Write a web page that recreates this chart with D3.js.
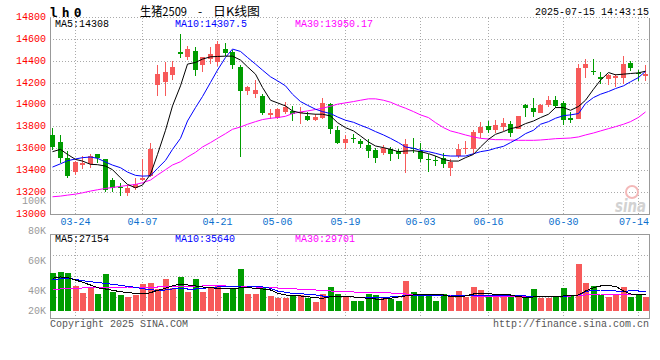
<!DOCTYPE html>
<html>
<head>
<meta charset="utf-8">
<script src="https://cdn.jsdelivr.net/npm/d3@7/dist/d3.min.js"></script>
<style>
body { margin: 0; background: #fff; }
text { font-family: "Liberation Mono", "DejaVu Sans Mono", monospace; font-size: 10px; }
</style>
</head>
<body>
<script>
// trading days shown on the chart
var dates = ["03-19","03-20","03-21","03-24","03-25","03-26","03-27","03-28","03-31",
  "04-01","04-02","04-03","04-07","04-08","04-09","04-10","04-11","04-14","04-15","04-16","04-17","04-18",
  "04-21","04-22","04-23","04-24","04-25","04-28","04-29","04-30",
  "05-06","05-07","05-08","05-09","05-12","05-13","05-14","05-15","05-16","05-19","05-20","05-21","05-22","05-23",
  "05-26","05-27","05-28","05-29","05-30",
  "06-03","06-04","06-05","06-06","06-09","06-10","06-11","06-12","06-13","06-16","06-17","06-18","06-19","06-20",
  "06-23","06-24","06-25","06-26","06-27","06-30",
  "07-01","07-02","07-03","07-04","07-07","07-08","07-09","07-10","07-11","07-14","07-15"];

var opens = [13724,13657,13516,13384,13445,13461,13546,13500,13311,13250,13194,13234,13314,13347,14183,14208,14272,14480,14440,14489,
  14367,14419,14388,14514,14483,14348,14128,14103,14082,13908,13883,13935,13944,13926,13898,13865,13883,14012,13773,13650,
  13696,13666,13629,13583,13559,13595,13577,13553,13602,13577,13504,13494,13510,13424,13531,13595,13592,13742,13803,13770,
  13797,13828,13776,14000,13975,13923,14000,14048,14021,13877,13874,14336,14309,14257,14235,14244,14250,14385,14296,14263];
var highs = [13785,13724,13577,13485,13531,13546,13550,13505,13332,13286,13265,13332,13500,13650,14367,14394,14397,14648,14535,14526,
  14440,14526,14587,14569,14501,14367,14174,14229,14097,13960,13975,14030,13990,13981,13938,13914,14067,14015,13803,13724,
  13730,13687,13684,13608,13632,13614,13599,13684,13693,13654,13553,13531,13562,13500,13638,13669,13767,13843,13852,13858,
  13877,13852,13898,14012,14061,14012,14082,14082,14036,13938,14373,14419,14419,14305,14287,14281,14446,14404,14318,14364];
var lows = [13583,13470,13326,13354,13409,13424,13464,13204,13204,13164,13164,13216,13301,13341,14082,14082,14232,14425,14410,14266,
  14305,14373,14357,14449,14327,13522,14088,14067,13905,13868,13868,13914,13852,13822,13852,13852,13868,13730,13644,13592,
  13654,13608,13516,13470,13537,13485,13504,13378,13562,13479,13384,13439,13418,13347,13516,13546,13546,13699,13745,13745,
  13761,13706,13776,13889,13892,13923,13981,13975,13816,13834,13868,14250,14272,14189,14183,14165,14195,14312,14220,14220];
var closes = [13614,13516,13344,13476,13464,13534,13510,13219,13240,13244,13237,13277,13329,13592,14287,14299,14348,14468,14514,14321,
  14434,14465,14557,14477,14364,14128,14159,14137,13923,13923,13960,13984,13914,13938,13865,13892,14021,13776,13650,13684,
  13690,13638,13577,13510,13602,13553,13553,13638,13595,13507,13494,13485,13461,13476,13592,13602,13748,13797,13770,13813,
  13837,13745,13898,13975,13935,14000,14042,13993,13859,13865,14336,14373,14299,14241,14272,14266,14373,14336,14281,14287];

var ma5 = [13571,13592,13546,13500,13485,13455,13452,13439,13406,13332,13271,13240,13265,13363,13546,13767,13990,14174,14373,14388,
  14419,14440,14443,14446,14446,14410,14348,14281,14159,14042,14018,13990,13944,13926,13920,13914,13914,13898,13837,13791,
  13761,13715,13660,13623,13608,13592,13571,13577,13580,13571,13553,13531,13500,13485,13485,13516,13546,13614,13684,13730,
  13755,13782,13797,13828,13852,13883,13914,13975,13975,13950,13985,14042,14143,14226,14296,14275,14281,14287,14293,14308];
var ma10 = [13430,13460,13488,13504,13516,13522,13510,13476,13448,13424,13384,13354,13347,13350,13418,13491,13592,13693,13852,13975,
  14076,14205,14318,14434,14511,14489,14434,14373,14318,14257,14220,14174,14097,14030,13996,13960,13938,13920,13889,13859,
  13840,13813,13785,13755,13724,13693,13654,13614,13602,13583,13571,13556,13537,13531,13531,13531,13552,13571,13583,13602,
  13620,13654,13693,13736,13767,13822,13846,13877,13901,13908,13920,14012,14067,14097,14122,14149,14174,14211,14250,14307];
var ma30 = [13158,13164,13173,13182,13194,13210,13222,13234,13243,13253,13262,13271,13286,13311,13357,13406,13449,13479,13522,13565,
  13614,13654,13693,13736,13776,13797,13822,13846,13865,13877,13883,13895,13920,13935,13944,13957,13969,13987,14006,14018,
  14030,14042,14055,14055,14042,14024,13993,13969,13938,13908,13883,13837,13791,13761,13742,13724,13706,13693,13687,13681,
  13681,13678,13675,13675,13675,13678,13684,13690,13693,13696,13706,13724,13742,13761,13782,13800,13822,13846,13885,13935];

var volumes = [58000,59000,58000,45000,38000,43000,36400,57000,39000,36000,33400,36000,47000,48000,41700,52000,43000,54000,39000,52000,
  39000,42300,44700,38000,43000,62000,37000,37000,42300,35000,33000,33000,35000,35700,32400,29000,37000,44000,36700,34000,
  29700,29700,36700,35700,34000,32000,30000,49700,39000,35700,35700,29700,36700,34000,39700,34000,44000,40700,34700,34700,
  34700,34700,34700,34000,41700,33000,33000,34700,43000,35700,66700,48000,44700,35700,34000,36300,43700,34000,35700,34000];
var volMa5 = [52400,53700,53000,50700,48400,45700,43000,41700,40400,39000,38000,37400,36700,38000,40400,42400,45000,46400,45700,44700,
  43700,43000,42400,42400,41700,43000,43000,42400,41700,40700,37400,35700,35000,34700,34000,33000,32400,34000,34000,34000,
  33700,33000,32400,31700,31700,32400,33700,34700,35700,36400,36400,36400,35700,34000,34400,34700,36700,37400,37000,36400,
  36400,35700,34000,33400,33700,34000,34000,34400,34700,35000,35700,39700,43000,44700,45000,44400,39700,36700,36000,35700];
var volMa10 = [50700,52000,52400,51400,50000,49000,48000,47400,46400,45400,44400,43400,42000,41000,40400,40700,41700,42400,41700,41700,
  42400,43000,43700,44000,44000,43700,43700,44000,43700,42400,39700,38400,37400,37000,36400,35700,34700,34700,34000,34000,
  33700,33400,33400,33400,33400,33700,34400,35000,35000,35000,35000,35000,35400,35700,35700,35400,35000,35000,35000,35000,
  35000,35000,35000,34700,34400,34000,34000,34400,34400,35000,35700,39000,40400,40700,40700,39700,39000,40000,39700,39700];
var volMa30 = [41400,41700,42000,42400,42700,43000,43000,43400,43400,43400,43700,43700,43700,43700,43700,44000,44000,44400,44400,44700,
  44700,45000,45000,44700,44700,44400,44000,43700,43400,43000,42700,42400,42000,41400,41000,40700,40400,39700,39400,39000,
  38700,38400,38400,38000,38000,37700,37000,36700,36400,36400,36000,35700,35400,35000,35000,35000,34700,34700,34700,34700,
  34700,34700,34700,34700,34700,34700,34700,34700,34700,34700,35000,35700,36400,36700,36700,36700,36700,36400,36000,35700];

var tickDates = ["03-24","04-07","04-21","05-06","05-19","06-03","06-16","06-30","07-14"];
var priceTicks = [13000,13200,13400,13600,13800,14000,14200,14400,14600,14800];
var volTicks = [20000,40000,60000,80000,100000];
var volTickLabels = ["20K","40K","60K","80K","100K"];

var red = "#f75a5a", green = "#009c00", gridColor = "#aaa", borderColor = "#999";
var left = 50, right = 649, volTop = 234, volBot = 318;

var svg = d3.select("body").append("svg")
    .attr("width", 660)
    .attr("height", 360);

var x = d3.scaleBand().domain(dates).range([49, 649.5]);
var y = d3.scaleLinear().domain([13000, 14800]).range([214, 17.5]);
var vy = d3.scaleLinear().domain([20000, 100000]).range([310.7, 230.7]);
// sina places its volume labels unevenly
var volLabelY = d3.scaleLinear().domain([20000, 40000, 100000]).range([310.7, 290.7, 200.7]);

function cx(d) { return Math.floor(x(d) + x.bandwidth() / 2); }
function py(v) { return Math.floor(y(v)) + 0.5; }

// grid
var grid = svg.append("g")
    .attr("stroke", gridColor)
    .attr("stroke-dasharray", "1,2")
    .attr("shape-rendering", "crispEdges");

grid.selectAll(".hgrid")
    .data(priceTicks.slice(1))
    .enter().append("line")
    .attr("x1", left).attr("x2", right)
    .attr("y1", function(d) { return py(d); })
    .attr("y2", function(d) { return py(d); });

grid.selectAll(".vgrid")
    .data(tickDates)
    .enter().append("line")
    .attr("x1", function(d) { return cx(d) + 0.5; })
    .attr("x2", function(d) { return cx(d) + 0.5; })
    .attr("y1", py(14800)).attr("y2", py(13000));

grid.selectAll(".vgrid2")
    .data(tickDates)
    .enter().append("line")
    .attr("x1", function(d) { return cx(d) + 0.5; })
    .attr("x2", function(d) { return cx(d) + 0.5; })
    .attr("y1", volTop).attr("y2", volBot);

grid.selectAll(".vhgrid")
    .data([1, 2, 3])
    .enter().append("line")
    .attr("x1", left).attr("x2", right)
    .attr("y1", function(k) { return Math.round(volTop + k * (volBot - volTop) / 4) + 0.5; })
    .attr("y2", function(k) { return Math.round(volTop + k * (volBot - volTop) / 4) + 0.5; });

// borders
var border = svg.append("g")
    .attr("stroke", borderColor)
    .attr("fill", "none")
    .attr("shape-rendering", "crispEdges");
border.append("path")
    .attr("d", "M" + (left + 0.5) + "," + py(14800) + "V" + py(13000) + "H" + (right + 0.5) + "V" + py(14800));
border.append("rect")
    .attr("x", left + 0.5).attr("y", volTop + 0.5)
    .attr("width", right - left).attr("height", volBot - volTop);

// watermark
var wm = svg.append("g");
wm.append("circle")
    .attr("cx", 632).attr("cy", 192).attr("r", 6)
    .attr("fill", "none").attr("stroke", "#f3b9b9").attr("stroke-width", 2);
wm.append("text")
    .attr("x", 615).attr("y", 212)
    .attr("textLength", 31).attr("lengthAdjust", "spacingAndGlyphs")
    .style("font-family", "DejaVu Sans").style("font-size", "18px")
    .style("font-weight", "bold").style("font-style", "italic")
    .attr("fill", "#d2d2d2")
    .text("sina");

// candles
var idx = d3.range(dates.length);
function colorOf(i) { return closes[i] >= opens[i] ? red : green; }

var candles = svg.append("g").attr("shape-rendering", "crispEdges");
candles.selectAll(".wick")
    .data(idx)
    .enter().append("line")
    .attr("x1", function(i) { return cx(dates[i]) + 0.5; })
    .attr("x2", function(i) { return cx(dates[i]) + 0.5; })
    .attr("y1", function(i) { return Math.round(y(highs[i])); })
    .attr("y2", function(i) { return Math.round(y(lows[i])); })
    .attr("stroke", colorOf);

candles.selectAll(".body")
    .data(idx)
    .enter().append("rect")
    .attr("x", function(i) { return cx(dates[i]) - 2; })
    .attr("width", 5)
    .attr("y", function(i) { return Math.round(y(Math.max(opens[i], closes[i]))); })
    .attr("height", function(i) {
        return Math.max(1, Math.round(y(Math.min(opens[i], closes[i]))) - Math.round(y(Math.max(opens[i], closes[i]))));
    })
    .attr("fill", colorOf);

// moving averages
function maLine(g, arr, yScale, color) {
    g.append("path")
        .datum(idx)
        .attr("fill", "none")
        .attr("stroke", color)
        .attr("stroke-width", 1)
        .attr("d", d3.line()
            .x(function(i) { return cx(dates[i]) + 0.5; })
            .y(function(i) { return yScale(arr[i]); }));
}
var maG = svg.append("g");
maLine(maG, ma30, y, "#ff00ff");
maLine(maG, ma10, y, "#0000ff");
maLine(maG, ma5, y, "#000");

// volume bars
var vol = svg.append("g").attr("shape-rendering", "crispEdges");
vol.selectAll(".vbar")
    .data(idx)
    .enter().append("rect")
    .attr("x", function(i) { return cx(dates[i]) - 2; })
    .attr("width", 6)
    .attr("y", function(i) { return Math.round(vy(volumes[i])); })
    .attr("height", function(i) { return Math.round(vy(20000)) - Math.round(vy(volumes[i])); })
    .attr("fill", colorOf);

maLine(vol, volMa30, vy, "#ff00ff");
maLine(vol, volMa10, vy, "#0000ff");
maLine(vol, volMa5, vy, "#000");

// axis labels
svg.append("g").selectAll("text")
    .data(priceTicks)
    .enter().append("text")
    .attr("x", 46)
    .attr("y", function(d) { return py(d) + 2.5; })
    .attr("text-anchor", "end")
    .attr("fill", "#f00")
    .text(function(d) { return d; });

svg.append("g").selectAll("text")
    .data(volTicks)
    .enter().append("text")
    .attr("x", 46)
    .attr("y", function(d) { return volLabelY(d) + 3.5; })
    .attr("text-anchor", "end")
    .attr("fill", "#9a9a9a")
    .text(function(d, i) { return volTickLabels[i]; });

svg.append("g").selectAll("text")
    .data(tickDates)
    .enter().append("text")
    .attr("x", function(d) { return Math.min(cx(d) + 0.5, right - 15); })
    .attr("y", 225)
    .attr("text-anchor", "middle")
    .attr("fill", "#0a6fce")
    .text(function(d) { return d; });

// headers
svg.append("text")
    .attr("x", 50).attr("y", 17)
    .style("font-family", "DejaVu Sans Mono").style("font-size", "13px").style("font-weight", "bold")
    .attr("letter-spacing", 4)
    .text("lh0");
svg.append("text")
    .attr("x", 140).attr("y", 16)
    .attr("textLength", 47).attr("lengthAdjust", "spacingAndGlyphs")
    .style("font-family", "Noto Sans CJK SC").style("font-size", "12px")
    .text("生猪2509");
svg.append("text")
    .attr("x", 200).attr("y", 16).attr("text-anchor", "middle")
    .style("font-family", "Noto Sans CJK SC").style("font-size", "12px")
    .text("-");
svg.append("text")
    .attr("x", 213).attr("y", 16)
    .attr("textLength", 47).attr("lengthAdjust", "spacingAndGlyphs")
    .style("font-family", "Noto Sans CJK SC").style("font-size", "12px")
    .text("日K线图");
svg.append("text")
    .attr("x", 649).attr("y", 15).attr("text-anchor", "end")
    .text("2025-07-15 14:43:15");

var maLabels = [["MA5:14308", "#000"], ["MA10:14307.5", "#0000ff"], ["MA30:13950.17", "#ff00ff"]];
var volLabels = [["MA5:27154", "#000"], ["MA10:35640", "#0000ff"], ["MA30:29701", "#ff00ff"]];
var labelX = [55, 175, 295];

svg.append("g").selectAll("text")
    .data(maLabels)
    .enter().append("text")
    .attr("x", function(d, i) { return labelX[i]; })
    .attr("y", 27)
    .attr("fill", function(d) { return d[1]; })
    .text(function(d) { return d[0]; });

svg.append("g").selectAll("text")
    .data(volLabels)
    .enter().append("text")
    .attr("x", function(d, i) { return labelX[i]; })
    .attr("y", 242)
    .attr("fill", function(d) { return d[1]; })
    .text(function(d) { return d[0]; });

svg.append("text")
    .attr("x", 50).attr("y", 327)
    .attr("fill", "#555")
    .text("Copyright 2025 SINA.COM");
svg.append("text")
    .attr("x", 649).attr("y", 327).attr("text-anchor", "end")
    .attr("fill", "#555")
    .text("http://finance.sina.com.cn");
</script>
</body>
</html>
